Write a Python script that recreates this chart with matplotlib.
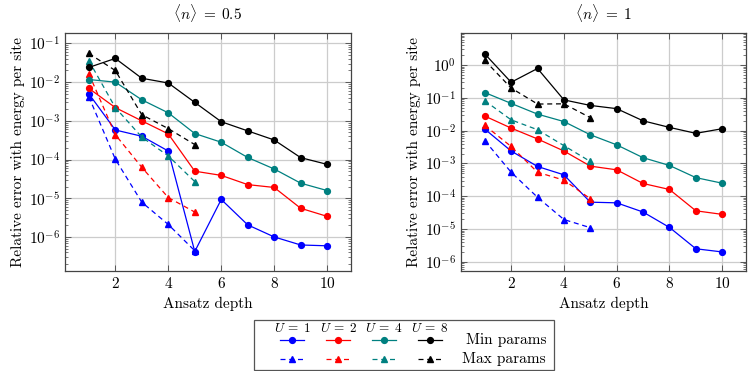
import math
import matplotlib
matplotlib.use("Agg")
import matplotlib.pyplot as plt
from matplotlib.lines import Line2D
from matplotlib.patches import Rectangle
from matplotlib.ticker import LogLocator, FixedLocator

plt.rcParams['font.family'] = 'serif'
plt.rcParams['font.serif'] = ['cmr10', 'DejaVu Serif']
plt.rcParams['mathtext.fontset'] = 'cm'
plt.rcParams['axes.formatter.use_mathtext'] = True
plt.rcParams['axes.unicode_minus'] = True

depth = [1, 2, 3, 4, 5, 6, 7, 8, 9, 10]
depth_max = [1, 2, 3, 4, 5]
u_labels = [r"$U\:=\:1$", r"$U\:=\:2$", r"$U\:=\:4$", r"$U\:=\:8$"]
colors = ["#0000ff", "#ff0000", "#008080", "#000000"]

# <n> = 0.5
half_min = {
    1: [5.0e-3, 5.8e-4, 4.0e-4, 1.66e-4, 4.2e-7, 9.3e-6, 2.05e-6, 1.0e-6, 6.2e-7, 5.9e-7],
    2: [6.9e-3, 2.2e-3, 1.0e-3, 4.6e-4, 5.0e-5, 3.9e-5, 2.25e-5, 1.9e-5, 5.5e-6, 3.4e-6],
    4: [1.17e-2, 1.0e-2, 3.5e-3, 1.61e-3, 4.7e-4, 2.8e-4, 1.13e-4, 5.7e-5, 2.45e-5, 1.58e-5],
    8: [2.4e-2, 4.1e-2, 1.26e-2, 9.5e-3, 3.0e-3, 9.5e-4, 5.5e-4, 3.2e-4, 1.12e-4, 7.5e-5],
}
half_max = {
    1: [4.2e-3, 1.02e-4, 7.9e-6, 2.1e-6, 4.4e-7],
    2: [1.65e-2, 4.4e-4, 6.3e-5, 1.04e-5, 4.4e-6],
    4: [3.6e-2, 2.2e-3, 3.8e-4, 1.24e-4, 2.7e-5],
    8: [5.5e-2, 2.0e-2, 1.44e-3, 6.3e-4, 2.44e-4],
}
# <n> = 1
one_min = {
    1: [1.12e-2, 2.4e-3, 8.1e-4, 4.5e-4, 6.6e-5, 6.3e-5, 3.3e-5, 1.12e-5, 2.5e-6, 2.0e-6],
    2: [2.8e-2, 1.2e-2, 5.6e-3, 2.4e-3, 8.3e-4, 6.4e-4, 2.45e-4, 1.61e-4, 3.6e-5, 2.8e-5],
    4: [1.46e-1, 6.8e-2, 3.2e-2, 1.9e-2, 7.5e-3, 3.7e-3, 1.5e-3, 8.7e-4, 3.7e-4, 2.5e-4],
    8: [2.2, 3.0e-1, 7.9e-1, 8.7e-2, 5.9e-2, 4.7e-2, 2.0e-2, 1.26e-2, 8.3e-3, 1.15e-2],
}
one_max = {
    1: [5.0e-3, 5.4e-4, 9.3e-5, 1.95e-5, 1.1e-5],
    2: [1.45e-2, 3.3e-3, 5.4e-4, 3.1e-4, 8.4e-5],
    4: [8.2e-2, 2.14e-2, 1.07e-2, 3.5e-3, 1.15e-3],
    8: [1.39, 2.0e-1, 6.5e-2, 6.6e-2, 2.5e-2],
}
u_values = [1, 2, 4, 8]
titles = [r"$\langle n\rangle\;=\;0.5$", r"$\langle n\rangle\;=\;1$"]

W, H = 748, 371
fig = plt.figure(figsize=(W / 100, H / 100), dpi=100)
axL = fig.add_axes([65 / W, 1 - 271 / H, 286 / W, 238 / H])
axR = fig.add_axes([461 / W, 1 - 271 / H, 285 / W, 238 / H])

panels = [
    (axL, half_min, half_max, (10 ** -6.88, 10 ** -0.73), [1e-6, 1e-5, 1e-4, 1e-3, 1e-2, 1e-1]),
    (axR, one_min, one_max, (10 ** -6.28, 10 ** 0.98), [1e-6, 1e-5, 1e-4, 1e-3, 1e-2, 1e-1, 1e0]),
]

fs = 11
for i, (ax, dmin, dmax, ylim, yticks) in enumerate(panels):
    ax.set_yscale('log')
    for u, c in zip(u_values, colors):
        ax.plot(depth, dmin[u], color=c, lw=0.9, marker='o', ms=4.2, zorder=3)
        ax.plot(depth_max, dmax[u], color=c, lw=0.9, ls=(0, (4, 3)), marker='^', ms=4.6, zorder=3)
    ax.set_xlim(0.1, 10.9)
    ax.set_ylim(*ylim)
    ax.set_xticks([2, 4, 6, 8, 10])
    ax.yaxis.set_major_locator(FixedLocator(yticks))
    ax.yaxis.set_minor_locator(LogLocator(base=10, subs=range(2, 10), numticks=50))
    ax.set_yticks(yticks)
    ax.set_yticklabels([r"$10^{%d}$" % round(math.log10(t)) for t in yticks])
    ax.grid(True, which='major', color='#cccccc', lw=0.9, zorder=0)
    ax.set_axisbelow(True)
    ax.tick_params(which='both', direction='in', top=True, right=True, colors='#444444',
                   labelcolor='black', labelsize=fs)
    ax.tick_params(which='major', length=4, width=0.6)
    ax.tick_params(which='minor', length=2.2, width=0.5)
    for s in ax.spines.values():
        s.set_color('#444444')
        s.set_linewidth(0.9)
    ax.set_xlabel("Ansatz depth", fontsize=fs, labelpad=4)
    ax.set_ylabel("Relative error with energy per site", fontsize=fs, labelpad=3)
    ax.set_title(titles[i], fontsize=fs, pad=10)

# Legend (matrix style)
lx0, ly0, lx1, ly1 = 254, 320, 554, 370
fig.patches.append(Rectangle((lx0 / W, 1 - ly1 / H), (lx1 - lx0) / W, (ly1 - ly0) / H,
                             transform=fig.transFigure, fill=False, edgecolor='#555555', lw=0.9))
col_x = [292, 338, 384, 430]
for cx, lab, c in zip(col_x, u_labels, colors):
    fig.text(cx / W, 1 - 328 / H, lab, ha='center', va='center', fontsize=9.5)
    fig.lines.append(Line2D([(cx - 12) / W, (cx + 12) / W], [1 - 340 / H, 1 - 340 / H],
                            transform=fig.transFigure, color=c, lw=0.9))
    fig.lines.append(Line2D([cx / W], [1 - 340 / H], transform=fig.transFigure, color=c,
                            marker='o', ms=4.2, ls='none'))
    fig.lines.append(Line2D([(cx - 12) / W, (cx + 12) / W], [1 - 359 / H, 1 - 359 / H],
                            transform=fig.transFigure, color=c, lw=0.9, ls=(0, (4, 3))))
    fig.lines.append(Line2D([cx / W], [1 - 359 / H], transform=fig.transFigure, color=c,
                            marker='^', ms=4.6, ls='none'))
fig.text(546 / W, 1 - 340 / H, "Min params", ha='right', va='center', fontsize=fs)
fig.text(546 / W, 1 - 359 / H, "Max params", ha='right', va='center', fontsize=fs)

fig.savefig("out.png", dpi=100)
